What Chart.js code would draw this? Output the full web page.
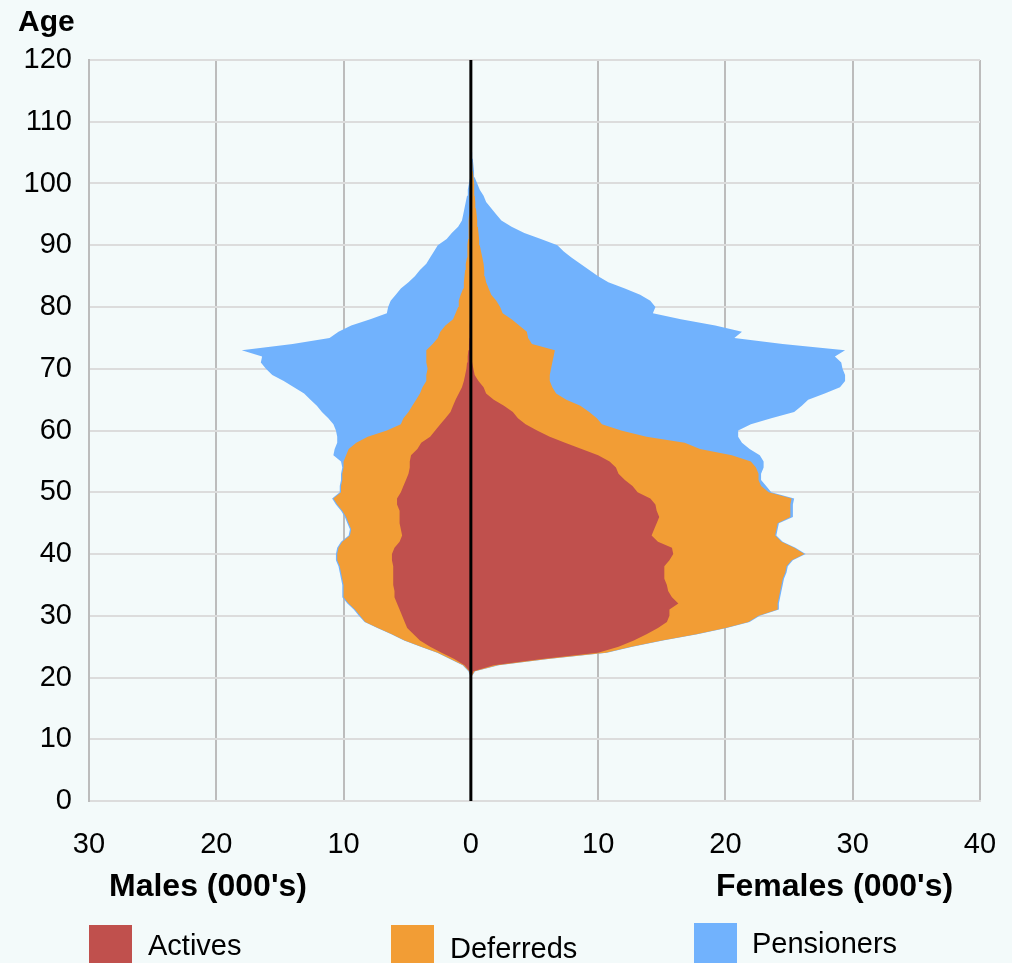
<!DOCTYPE html>
<html>
<head>
<meta charset="utf-8">
<title>Membership profile</title>
<script src="https://cdn.jsdelivr.net/npm/chart.js@4/dist/chart.umd.min.js"></script>
<style>
  html, body { margin: 0; padding: 0; background: #f3fafa; }
  #wrap { position: relative; width: 1012px; height: 963px; overflow: hidden; }
</style>
</head>
<body>
<div id="wrap"><canvas id="pyramid" width="1012" height="963"></canvas></div>
<script>
// DATA (thousands of members by age)
const ages = [20,21,22,23,24,25,26,27,28,29,30,31,32,33,34,35,36,37,38,39,
  40,41,42,43,44,45,46,47,48,49,50,51,52,53,54,55,56,57,58,59,
  60,61,62,63,64,65,66,67,68,69,70,71,72,73,74,75,76,77,78,79,
  80,81,82,83,84,85,86,87,88,89,90,91,92,93,94,95,96,97,98,99,
  100,101,102,103,104,105,106,107];

const maleActives = [0,0.1,0.5,1.3,2.3,3.2,4.0,4.5,5.0,5.2,5.4,5.6,5.8,6.0,6.0,6.1,6.1,6.1,6.1,6.2,
  6.2,6.0,5.6,5.4,5.5,5.6,5.6,5.6,5.8,5.8,5.5,5.3,5.1,4.9,4.8,4.8,4.7,4.2,3.9,3.2,
  2.8,2.4,2.0,1.6,1.4,1.2,0.95,0.7,0.55,0.45,0.35,0.3,0.25,0.2,0.15,0.12,0.1,0.08,0.06,0.05,
  0.04,0.03,0.02,0.02,0.01,0,0,0,0,0,0,0,0,0,0,0,0,0,0,0,
  0,0,0,0,0,0,0,0];
const maleDeferreds = [0,0.05,0.1,0.3,0.3,0.7,1.2,1.7,2.3,3.1,3.3,3.5,3.8,4.0,4.0,3.9,4.0,4.1,4.2,4.3,
  4.3,4.4,4.5,4.1,3.9,4.0,4.2,4.5,4.7,5.0,4.7,4.9,5.0,5.2,5.2,5.2,5.1,5.4,5.1,4.9,
  3.8,3.1,3.3,3.3,3.2,3.1,3.05,3.1,2.95,3.05,3.05,3.2,3.25,3.3,2.85,2.48,2.3,1.92,1.34,1.15,
  0.96,0.92,0.78,0.58,0.54,0.5,0.45,0.4,0.3,0.28,0.26,0.22,0.2,0.18,0.16,0.14,0.12,0.1,0.08,0.06,
  0.04,0.02,0,0,0,0,0,0];
const malePensioners = [0,0.05,0.05,0.05,0.05,0.05,0.05,0.05,0.05,0.05,0.1,0.1,0.1,0.1,0.1,0.1,0.1,0.1,0.1,0.1,
  0.1,0.1,0.1,0.1,0.1,0.1,0.1,0.1,0.1,0.1,0.1,0.1,0.1,0.1,0.1,0.2,1.0,1.1,1.5,2.4,
  4.0,5.3,5.9,6.8,7.5,8.3,9.1,10.1,11.2,12.1,12.7,13.0,12.9,14.5,11.0,8.5,8.0,7.4,6.5,5.4,
  5.5,5.35,5.1,4.9,4.35,3.9,3.55,3.1,2.9,2.62,2.34,1.68,1.3,0.82,0.54,0.46,0.38,0.3,0.22,0.18,
  0.11,0.03,0,0,0,0,0,0];

const femaleActives = [0,0.2,1.8,5.6,10.0,11.6,12.8,13.8,14.7,15.4,15.6,15.6,16.3,15.8,15.5,15.4,15.2,15.2,15.2,15.6,
  15.9,15.8,14.7,14.2,14.4,14.6,14.8,14.6,14.5,14.1,13.1,12.7,12.1,11.6,11.4,10.9,10.0,8.7,7.4,6.2,
  5.2,4.3,3.7,3.3,2.6,1.8,1.2,1.0,0.6,0.3,0.2,0.1,0.05,0,0,0,0,0,0,0,
  0,0,0,0,0,0,0,0,0,0,0,0,0,0,0,0,0,0,0,0,
  0,0,0,0,0,0,0,0];
const femaleDeferreds = [0,0.1,0.3,0.4,0.6,1.0,2.2,3.9,5.3,6.4,7.0,8.5,7.8,8.4,8.8,9.0,9.3,9.5,9.6,9.6,
  10.3,9.6,9.7,9.7,9.6,9.5,10.3,10.5,10.6,11.1,10.3,10.1,10.5,11.0,11.0,11.1,10.5,9.3,9.4,7.6,
  6.6,6.0,6.2,6.0,6.0,5.7,5.5,5.4,5.6,5.9,6.1,6.3,6.45,6.6,4.8,4.5,4.4,3.8,3.2,2.5,
  2.3,2.0,1.6,1.4,1.2,1.1,1.05,1.0,0.9,0.8,0.7,0.65,0.6,0.55,0.5,0.45,0.4,0.35,0.3,0.28,
  0.25,0.2,0.16,0.12,0.08,0.05,0.02,0];
const femalePensioners = [0,0.05,0.1,0.1,0.1,0.1,0.1,0.1,0.1,0.1,0.1,0.1,0.1,0.1,0.1,0.1,0.1,0.1,0.1,0.1,
  0.1,0.1,0.1,0.1,0.1,0.1,0.2,0.2,0.2,0.2,0.2,0.4,0.2,0.2,0.6,1.0,2.2,3.9,4.5,7.2,
  9.2,11.7,13.7,16.1,17.4,19.0,21.1,22.6,23.2,23.2,22.9,22.7,22.1,22.8,19.7,16.2,16.9,15.4,13.3,11.8,
  12.2,12.1,11.7,10.7,9.6,8.9,8.25,7.6,7.0,6.5,6.1,4.85,3.6,2.65,1.9,1.55,1.2,0.85,0.7,0.42,
  0.25,0.1,0.09,0.08,0.07,0.05,0.03,0];

const seriesNames = ["Actives", "Deferreds", "Pensioners"];
const seriesColors = ["#c0504d", "#f29d35", "#71b2fd"];

const FONT = '"Liberation Sans", Arial, sans-serif';

function points(values, sign) {
  return values.map((v, i) => ({ x: sign * v, y: ages[i] }));
}

function area(values, sign, k, stack) {
  return {
    label: seriesNames[k],
    data: points(values, sign),
    stack: stack,
    backgroundColor: seriesColors[k],
    borderColor: "transparent",
    borderWidth: 0,
    pointRadius: 0,
    tension: 0,
    fill: "origin"
  };
}

// black line at zero, drawn above the areas
const zeroLine = {
  id: "zeroLine",
  afterDatasetsDraw(chart) {
    const { ctx, chartArea, scales } = chart;
    const x = scales.x.getPixelForValue(0);
    ctx.save();
    ctx.strokeStyle = "#000";
    ctx.lineWidth = 3;
    ctx.beginPath();
    ctx.moveTo(x, chartArea.top);
    ctx.lineTo(x, chartArea.bottom);
    ctx.stroke();
    ctx.restore();
  }
};

// axis titles and legend
const labels = {
  id: "labels",
  afterDraw(chart) {
    const ctx = chart.ctx;
    ctx.save();
    ctx.fillStyle = "#000";
    ctx.textBaseline = "alphabetic";
    ctx.textAlign = "left";
    ctx.font = "bold 30px " + FONT;
    ctx.fillText("Age", 18, 31);
    ctx.font = "bold 32px " + FONT;
    ctx.fillText("Males (000's)", 109, 896);
    ctx.fillText("Females (000's)", 716, 896);

    const boxX = [89, 391, 694];
    const boxY = [925, 925, 923];
    const textX = [148, 450, 752];
    const textY = [955, 958, 953];
    ctx.font = "29px " + FONT;
    seriesNames.forEach((name, k) => {
      ctx.fillStyle = seriesColors[k];
      ctx.fillRect(boxX[k], boxY[k], 43, 46);
      ctx.fillStyle = "#000";
      ctx.fillText(name, textX[k], textY[k]);
    });
    ctx.restore();
  }
};

new Chart(document.getElementById("pyramid"), {
  type: "line",
  data: {
    datasets: [
      area(maleActives, -1, 0, "m"),
      area(maleDeferreds, -1, 1, "m"),
      area(malePensioners, -1, 2, "m"),
      area(femaleActives, 1, 0, "f"),
      area(femaleDeferreds, 1, 1, "f"),
      area(femalePensioners, 1, 2, "f")
    ]
  },
  options: {
    indexAxis: "y",
    responsive: false,
    animation: false,
    layout: { padding: { top: 60, right: 32, bottom: 0, left: 0 } },
    plugins: {
      legend: { display: false },
      tooltip: { enabled: false }
    },
    scales: {
      x: {
        type: "linear",
        stacked: true,
        min: -30,
        max: 40,
        afterFit: s => { s.height = 162; },
        ticks: {
          stepSize: 10,
          padding: 0,
          color: "#000",
          font: { family: FONT, size: 29 },
          callback: v => Math.abs(v)
        },
        // invisible tick marks push the labels down without widening the side padding
        grid: { color: "#bcbcbc", lineWidth: 2, drawTicks: true, tickLength: 27, tickColor: "transparent" },
        border: { color: "#dcdcdc", width: 2 }
      },
      y: {
        type: "linear",
        min: 0,
        max: 120,
        afterFit: s => { s.width = 89; },
        ticks: {
          stepSize: 10,
          padding: 17,
          color: "#000",
          font: { family: FONT, size: 29 }
        },
        grid: { color: "#dcdcdc", lineWidth: 2, drawTicks: false },
        border: { color: "#bcbcbc", width: 2 }
      }
    }
  },
  plugins: [zeroLine, labels]
});
</script>
</body>
</html>
